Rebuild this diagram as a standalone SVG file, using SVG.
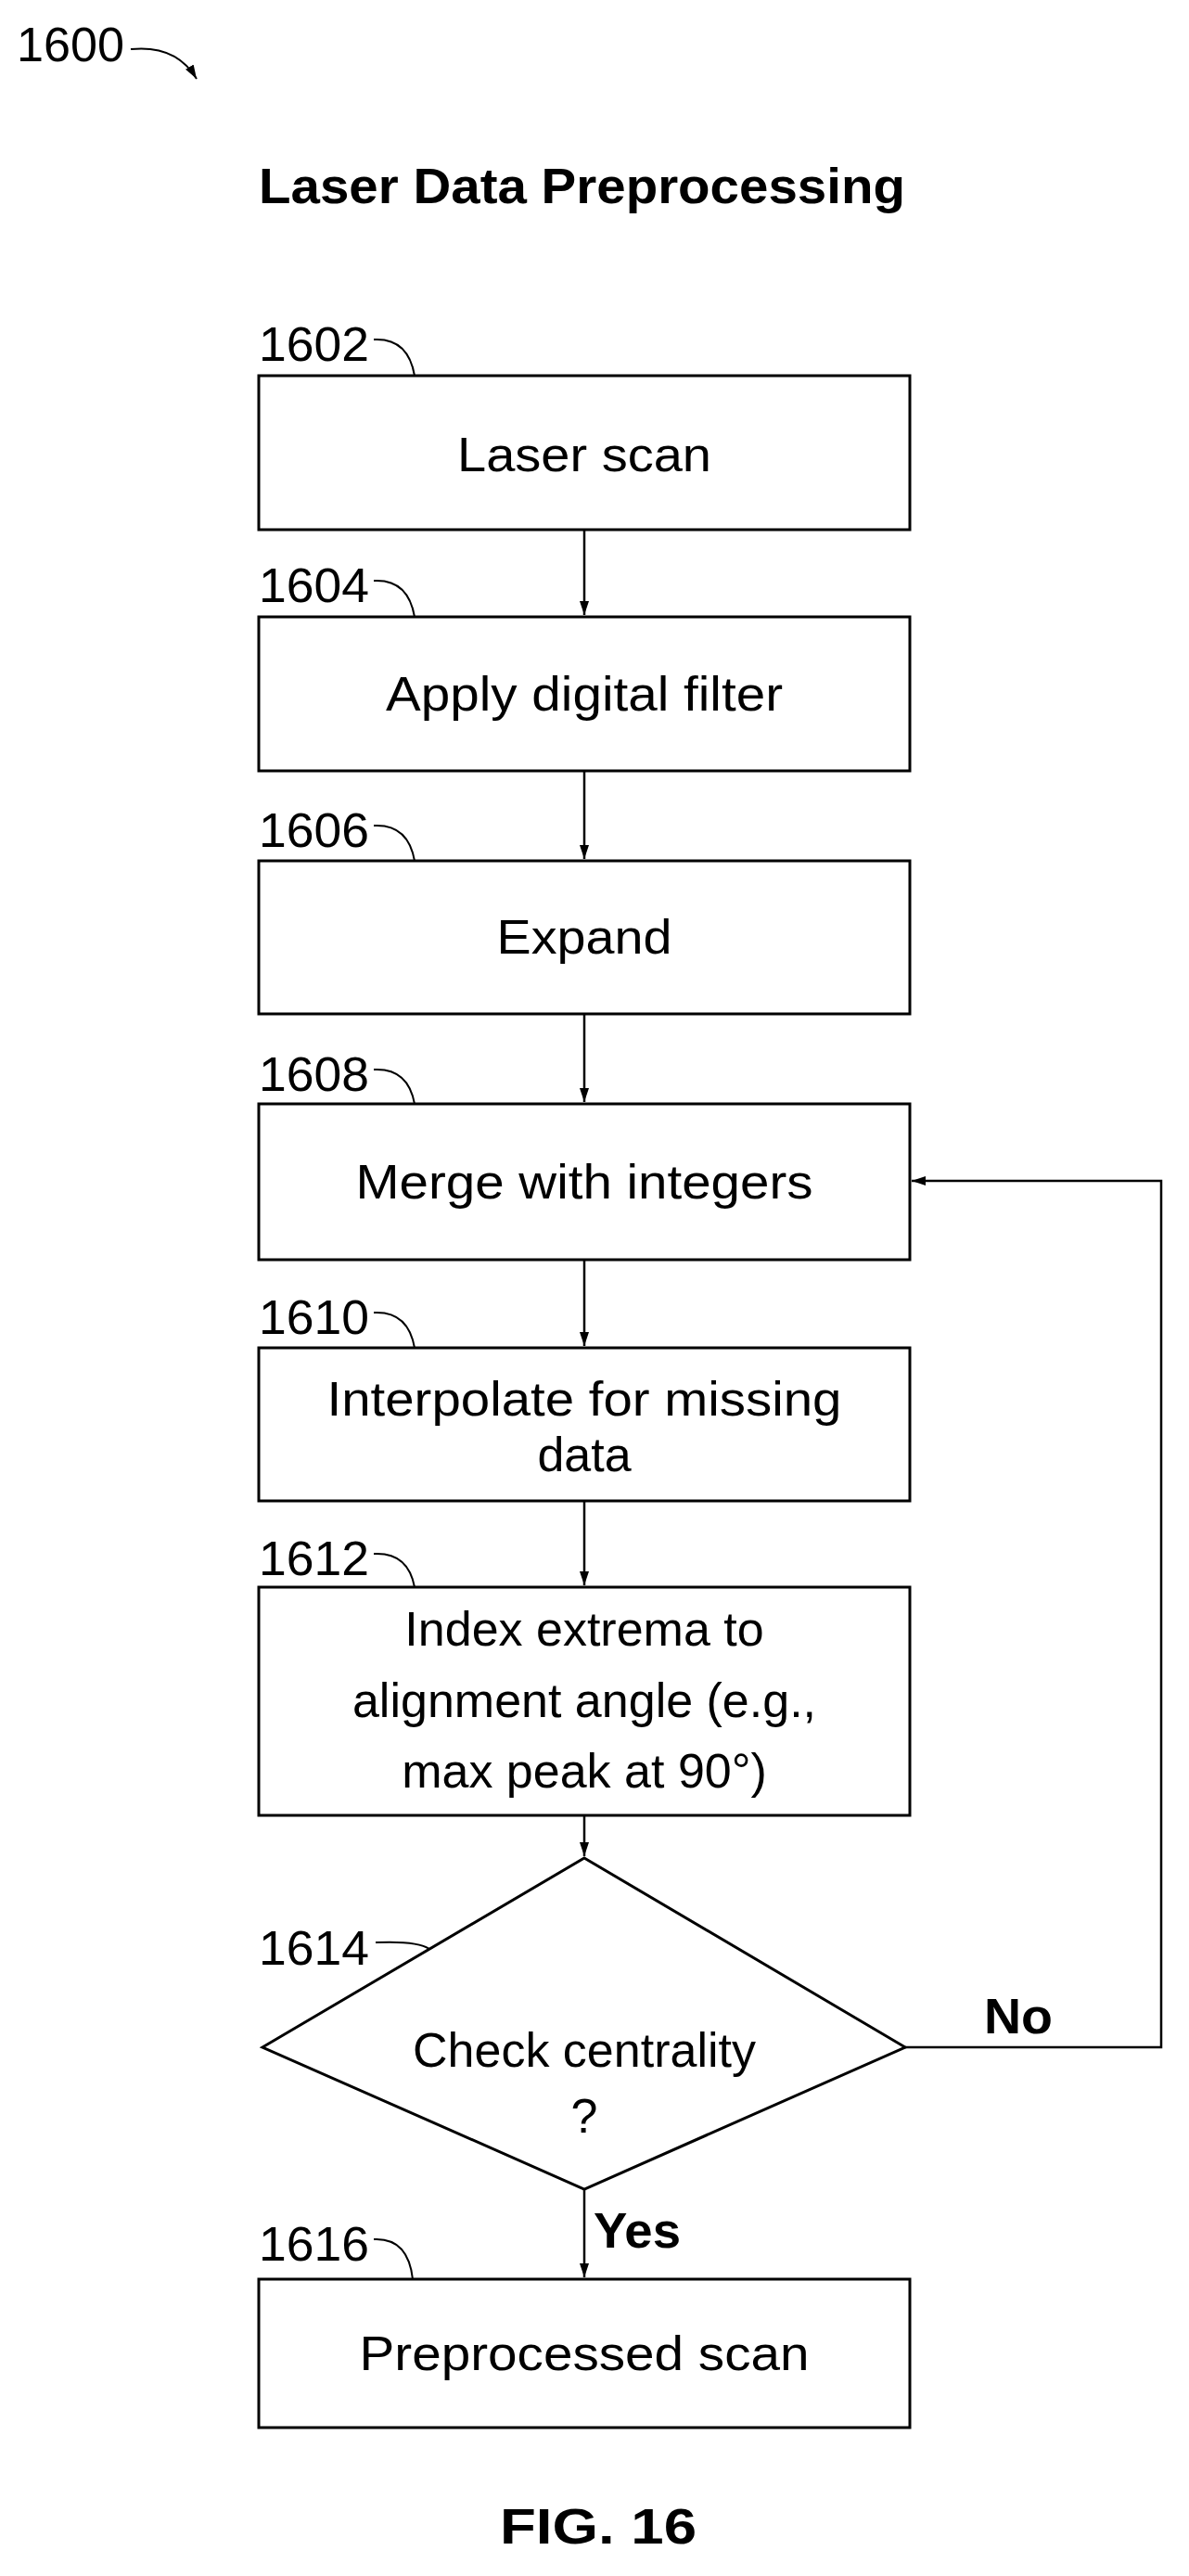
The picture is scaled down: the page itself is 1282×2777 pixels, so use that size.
<svg xmlns="http://www.w3.org/2000/svg" width="1282" height="2777" viewBox="0 0 1282 2777">
<style>
.box{fill:#fff;stroke:#000;stroke-width:3}
.t{font-family:"Liberation Sans",Arial,sans-serif;font-size:52px;text-anchor:middle;dominant-baseline:central}
.lbl{font-family:"Liberation Sans",Arial,sans-serif;font-size:52px;dominant-baseline:central}
.b{font-family:"Liberation Sans",Arial,sans-serif;font-weight:bold;font-size:54px;dominant-baseline:central}
.c{fill:none;stroke:#000;stroke-width:2.5}
.ld{fill:none;stroke:#000;stroke-width:2}
</style>
<defs>
<marker id="ah" markerWidth="16" markerHeight="24" refX="15" refY="8" orient="auto" markerUnits="userSpaceOnUse" viewBox="0 0 16 16">
<path d="M0,3 L15,8 L0,13 Z" fill="#000"/>
</marker>
</defs>
<rect width="1282" height="2777" fill="#fff"/>
<g id="ref1600">
<text class="lbl" x="18" y="48" textLength="116" lengthAdjust="spacingAndGlyphs">1600</text>
<path class="ld" d="M141,53 Q190,48 212,85" marker-end="url(#ah)"/>
</g>
<g id="title"><text class="b" x="279" y="200" textLength="697" lengthAdjust="spacingAndGlyphs">Laser Data Preprocessing</text></g>
<g id="connectors">
<line class="c" x1="630" y1="571" x2="630" y2="663" marker-end="url(#ah)"/>
<line class="c" x1="630" y1="831" x2="630" y2="926" marker-end="url(#ah)"/>
<line class="c" x1="630" y1="1093" x2="630" y2="1188" marker-end="url(#ah)"/>
<line class="c" x1="630" y1="1358" x2="630" y2="1451" marker-end="url(#ah)"/>
<line class="c" x1="630" y1="1618" x2="630" y2="1709" marker-end="url(#ah)"/>
<line class="c" x1="630" y1="1957" x2="630" y2="2001" marker-end="url(#ah)"/>
<line class="c" x1="630" y1="2360" x2="630" y2="2455" marker-end="url(#ah)"/>
<polyline class="c" points="976,2207 1252,2207 1252,1273 983,1273" marker-end="url(#ah)"/>
<text class="b" x="1061" y="2173" textLength="74" lengthAdjust="spacingAndGlyphs">No</text>
<text class="b" x="640" y="2404" textLength="94" lengthAdjust="spacingAndGlyphs">Yes</text>
</g>
<g id="n1602">
<rect class="box" x="279" y="405" width="702" height="166"/>
<text class="t" x="630" y="490" textLength="274" lengthAdjust="spacingAndGlyphs">Laser scan</text>
<text class="lbl" x="279" y="371" textLength="119" lengthAdjust="spacingAndGlyphs">1602</text>
<path class="ld" d="M403,366 Q440,364 447,405"/>
</g>
<g id="n1604">
<rect class="box" x="279" y="665" width="702" height="166"/>
<text class="t" x="630" y="748" textLength="428" lengthAdjust="spacingAndGlyphs">Apply digital filter</text>
<text class="lbl" x="279" y="631" textLength="119" lengthAdjust="spacingAndGlyphs">1604</text>
<path class="ld" d="M403,626 Q440,624 447,665"/>
</g>
<g id="n1606">
<rect class="box" x="279" y="928" width="702" height="165"/>
<text class="t" x="630" y="1010" textLength="189" lengthAdjust="spacingAndGlyphs">Expand</text>
<text class="lbl" x="279" y="895" textLength="119" lengthAdjust="spacingAndGlyphs">1606</text>
<path class="ld" d="M403,890 Q440,888 447,928"/>
</g>
<g id="n1608">
<rect class="box" x="279" y="1190" width="702" height="168"/>
<text class="t" x="630" y="1274" textLength="493" lengthAdjust="spacingAndGlyphs">Merge with integers</text>
<text class="lbl" x="279" y="1158" textLength="119" lengthAdjust="spacingAndGlyphs">1608</text>
<path class="ld" d="M403,1153 Q440,1151 447,1190"/>
</g>
<g id="n1610">
<rect class="box" x="279" y="1453" width="702" height="165"/>
<text class="t" x="630" y="1508" textLength="555" lengthAdjust="spacingAndGlyphs">Interpolate for missing</text>
<text class="t" x="630" y="1568">data</text>
<text class="lbl" x="279" y="1420" textLength="119" lengthAdjust="spacingAndGlyphs">1610</text>
<path class="ld" d="M403,1415 Q440,1413 447,1453"/>
</g>
<g id="n1612">
<rect class="box" x="279" y="1711" width="702" height="246"/>
<text class="t" x="630" y="1756">Index extrema to</text>
<text class="t" x="630" y="1833">alignment angle (e.g.,</text>
<text class="t" x="630" y="1909">max peak at 90°)</text>
<text class="lbl" x="279" y="1680" textLength="119" lengthAdjust="spacingAndGlyphs">1612</text>
<path class="ld" d="M403,1675 Q440,1673 447,1711"/>
</g>
<g id="n1614">
<polygon class="box" points="630,2003 976,2207 630,2360 283,2207"/>
<text class="t" x="630" y="2210">Check centrality</text>
<text class="t" x="630" y="2281">?</text>
<text class="lbl" x="279" y="2100" textLength="119" lengthAdjust="spacingAndGlyphs">1614</text>
<path class="ld" d="M405,2094 Q450,2092 463,2101"/>
</g>
<g id="n1616">
<rect class="box" x="279" y="2457" width="702" height="160"/>
<text class="t" x="630" y="2537" textLength="485" lengthAdjust="spacingAndGlyphs">Preprocessed scan</text>
<text class="lbl" x="279" y="2419" textLength="119" lengthAdjust="spacingAndGlyphs">1616</text>
<path class="ld" d="M403,2414 Q440,2412 445,2457"/>
</g>
<g id="fig"><text class="b" x="539" y="2723" textLength="212" lengthAdjust="spacingAndGlyphs">FIG. 16</text></g>
</svg>
